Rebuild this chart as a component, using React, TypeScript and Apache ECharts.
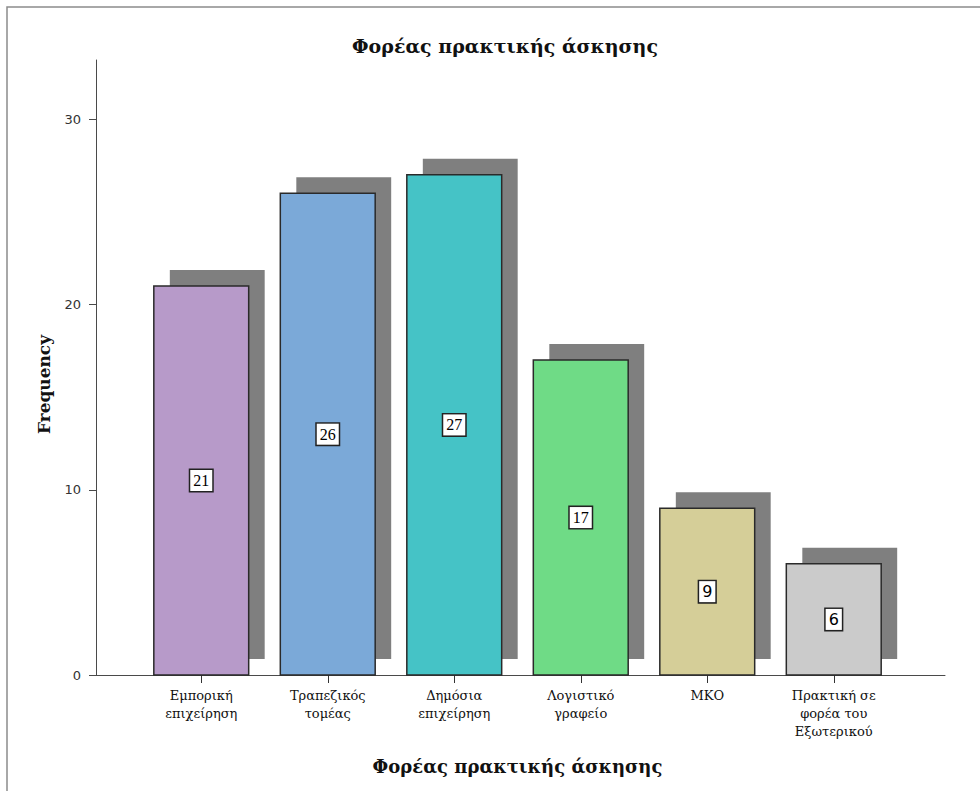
import React, { useEffect, useRef } from 'react';
import * as echarts from 'echarts';

const categories = [
  'Εμπορική\nεπιχείρηση',
  'Τραπεζικός\nτομέας',
  'Δημόσια\nεπιχείρηση',
  'Λογιστικό\nγραφείο',
  'ΜΚΟ',
  'Πρακτική σε\nφορέα του\nΕξωτερικού',
];
const frequencies = [21, 26, 27, 17, 9, 6];
const barColors = ['#b79ac9', '#7ba9d8', '#45c3c6', '#6fdb86', '#d5ce98', '#cbcbcb'];
const yTicks = [0, 10, 20, 30];
const yAxisMax = 33.2;
const titleText = 'Φορέας πρακτικής άσκησης';
const xAxisName = 'Φορέας πρακτικής άσκησης';
const yAxisName = 'Frequency';

const SERIF = '"DejaVu Serif", "Liberation Serif", serif';
const NUM_SERIF = '"Liberation Serif", "DejaVu Serif", serif';
const SANS = '"DejaVu Sans", Verdana, sans-serif';

export default function App() {
  const ref = useRef<HTMLDivElement>(null);
  useEffect(() => {
    if (!ref.current) return;
    const chart = echarts.init(ref.current, undefined, { renderer: 'svg' });
    const shadowOffset = 16;
    const option: any = {
      animation: false,
      backgroundColor: '#ffffff',
      title: {
        text: titleText,
        left: 500,
        textAlign: 'center',
        top: 31,
        textStyle: { fontFamily: SERIF, fontWeight: 'bold', fontSize: 19, color: '#111' },
      },
      graphic: [
        {
          type: 'rect',
          silent: true,
          shape: { x: 7, y: 7, width: 1000, height: 1000 },
          style: { fill: 'none', stroke: '#8c8c8c', lineWidth: 1.5 },
        },
      ],
      grid: [
        { left: 96, right: 35, top: 60, bottom: 116 },
        { left: 138, right: 83, top: 60, bottom: 116 },
      ],
      xAxis: [
        {
          type: 'value',
          gridIndex: 0,
          min: 0,
          max: 1,
          axisLine: { show: true, onZero: false, lineStyle: { color: '#4a4a4a', width: 1 } },
          axisTick: { show: false },
          axisLabel: { show: false },
          splitLine: { show: false },
        },
        {
          type: 'category',
          gridIndex: 1,
          data: categories,
          axisLine: { show: false },
          axisTick: { show: true, alignWithLabel: true, length: 8, lineStyle: { color: '#333', width: 1 } },
          axisLabel: {
            interval: 0,
            margin: 11,
            fontFamily: SERIF,
            fontSize: 13,
            lineHeight: 18,
            color: '#111',
          },
          name: xAxisName,
          nameLocation: 'middle',
          nameGap: 82,
          nameTextStyle: { fontFamily: SERIF, fontWeight: 'bold', fontSize: 18, color: '#111' },
        },
      ],
      yAxis: [
        {
          type: 'value',
          gridIndex: 0,
          min: 0,
          max: yAxisMax,
          axisLine: { show: true, onZero: false, lineStyle: { color: '#4a4a4a', width: 1 } },
          axisTick: { show: true, length: 7, customValues: yTicks, lineStyle: { color: '#4a4a4a' } },
          axisLabel: {
            customValues: yTicks,
            margin: 15,
            fontFamily: SANS,
            fontSize: 13,
            color: '#333',
          },
          splitLine: { show: false },
          name: yAxisName,
          nameLocation: 'middle',
          nameRotate: 90,
          nameGap: 44,
          nameTextStyle: {
            fontFamily: SERIF,
            fontWeight: 'bold',
            fontSize: 17,
            color: '#111',
            padding: [0, 34, 0, 0],
          },
        },
        {
          type: 'value',
          gridIndex: 1,
          min: 0,
          max: yAxisMax,
          show: false,
        },
      ],
      series: [
        {
          type: 'custom',
          xAxisIndex: 1,
          yAxisIndex: 1,
          clip: false,
          encode: { x: 0, y: 1 },
          data: frequencies.map((v, i) => [i, v]),
          renderItem: (params: any, api: any) => {
            const idx = params.dataIndex;
            const cat = api.value(0);
            const val = api.value(1);
            const top = api.coord([cat, val]);
            const base = api.coord([cat, 0]);
            const band = api.size([1, 0])[0];
            const w = band * 0.75;
            const x0 = top[0] - w / 2;
            const h = base[1] - top[1];
            const label = String(val);
            return {
              type: 'group',
              children: [
                {
                  type: 'rect',
                  shape: { x: x0 + shadowOffset, y: top[1] - shadowOffset, width: w, height: h },
                  style: { fill: '#7f7f7f' },
                },
                {
                  type: 'rect',
                  shape: { x: x0, y: top[1], width: w, height: h },
                  style: { fill: barColors[idx], stroke: '#2a2a2a', lineWidth: 1.5 },
                },
                {
                  type: 'text',
                  x: top[0],
                  y: top[1] + h / 2,
                  style: {
                    text: label,
                    align: 'center',
                    verticalAlign: 'middle',
                    fontFamily: label.length > 1 ? NUM_SERIF : SANS,
                    fontSize: 16,
                    fill: '#000',
                    backgroundColor: '#ffffff',
                    borderColor: '#222',
                    borderWidth: 1.5,
                    padding: [3, 3, 2, 3],
                  },
                },
              ],
            };
          },
        },
      ],
    };
    chart.setOption(option);
    return () => chart.dispose();
  }, []);
  return (
    <div
      ref={ref}
      style={{ position: 'absolute', left: 0, top: 0, width: 980, height: 791 }}
    />
  );
}
